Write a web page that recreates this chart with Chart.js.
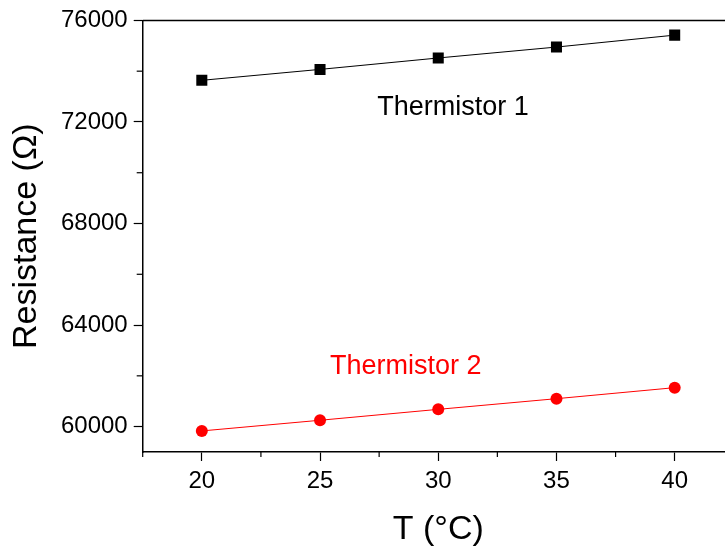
<!DOCTYPE html>
<html>
<head>
<meta charset="utf-8">
<script src="https://cdn.jsdelivr.net/npm/chart.js@4.4.1/dist/chart.umd.min.js"></script>
<style>
  html, body { margin: 0; padding: 0; background: #fff; overflow: hidden; width: 725px; height: 554px; }
  #wrap { position: relative; width: 760px; height: 554px; }
</style>
</head>
<body>
<div id="wrap"><canvas id="c" width="760" height="554"></canvas></div>
<script>
// ---- data ----
const temperatures = [20, 25, 30, 35, 40];
const thermistor1 = [73640, 74070, 74520, 74950, 75420];
const thermistor2 = [59830, 60250, 60680, 61100, 61534];
const xTicks = [20, 25, 30, 35, 40];
const xMinorTicks = [17.5, 22.5, 27.5, 32.5, 37.5, 42.5];
const yTicks = [60000, 64000, 68000, 72000, 76000];
const yMinorTicks = [62000, 66000, 70000, 74000];
const seriesNames = ['Thermistor 1', 'Thermistor 2'];

const FONT = "'Liberation Sans', Arial, Helvetica, sans-serif";

const labelPlugin = {
  id: 'extras',
  afterDraw(chart) {
    const ctx = chart.ctx;
    const xs = chart.scales.x, ys = chart.scales.y;
    const area = chart.chartArea;
    ctx.save();
    ctx.strokeStyle = '#000';
    ctx.lineWidth = 1.5;
    // top frame line
    ctx.beginPath();
    ctx.moveTo(area.left, area.top);
    ctx.lineTo(area.right, area.top);
    ctx.stroke();
    // right frame line
    ctx.beginPath();
    ctx.moveTo(area.right, area.top);
    ctx.lineTo(area.right, area.bottom);
    ctx.stroke();
    // minor ticks
    ctx.lineWidth = 1.2;
    xMinorTicks.forEach(v => {
      const px = xs.getPixelForValue(v);
      ctx.beginPath();
      ctx.moveTo(px, area.bottom);
      ctx.lineTo(px, area.bottom + 5);
      ctx.stroke();
    });
    yMinorTicks.forEach(v => {
      const py = ys.getPixelForValue(v);
      ctx.beginPath();
      ctx.moveTo(area.left, py);
      ctx.lineTo(area.left - 6, py);
      ctx.stroke();
    });
    // series labels
    ctx.font = '27px ' + FONT;
    ctx.textAlign = 'center';
    ctx.textBaseline = 'middle';
    ctx.fillStyle = '#000';
    ctx.fillText(seriesNames[0], xs.getPixelForValue(30.62), ys.getPixelForValue(72577));
    ctx.fillStyle = '#ff0000';
    ctx.fillText(seriesNames[1], xs.getPixelForValue(28.63), ys.getPixelForValue(62349));
    ctx.restore();
  }
};

new Chart(document.getElementById('c'), {
  type: 'line',
  data: {
    datasets: [
      {
        label: seriesNames[0],
        data: temperatures.map((t, i) => ({ x: t, y: thermistor1[i] })),
        borderColor: '#000',
        backgroundColor: '#000',
        borderWidth: 1,
        pointStyle: 'rect',
        pointRadius: 7.8,
        pointBorderWidth: 0,
        fill: false,
        tension: 0
      },
      {
        label: seriesNames[1],
        data: temperatures.map((t, i) => ({ x: t, y: thermistor2[i] })),
        borderColor: '#ff0000',
        backgroundColor: '#ff0000',
        borderWidth: 1,
        pointStyle: 'circle',
        pointRadius: 6,
        pointBorderWidth: 0,
        fill: false,
        tension: 0
      }
    ]
  },
  options: {
    responsive: false,
    animation: false,
    layout: { padding: { left: 0, top: 20, right: 26.2, bottom: 0 } },
    plugins: { legend: { display: false }, tooltip: { enabled: false } },
    scales: {
      x: {
        type: 'linear',
        min: 17.5,
        max: 42.5,
        afterBuildTicks(scale) { scale.ticks = xTicks.map(v => ({ value: v })); },
        afterFit(scale) { scale.height = 102; },
        border: { display: true, color: '#000', width: 1.5 },
        grid: { drawOnChartArea: false, drawTicks: true, tickLength: 9, tickColor: '#000', tickWidth: 1.2 },
        ticks: { color: '#000', font: { family: FONT, size: 24 }, padding: 6, maxRotation: 0 },
        title: { display: true, text: 'T (°C)', color: '#000', font: { family: FONT, size: 34 }, padding: { top: 0, bottom: 4 } }
      },
      y: {
        type: 'linear',
        min: 59000,
        max: 76000,
        afterBuildTicks(scale) { scale.ticks = yTicks.map(v => ({ value: v })); },
        afterFit(scale) { scale.width = 142.7; },
        border: { display: true, color: '#000', width: 1.5 },
        grid: { drawOnChartArea: false, drawTicks: true, tickLength: 9, tickColor: '#000', tickWidth: 1.2 },
        ticks: { color: '#000', font: { family: FONT, size: 24 }, padding: 6, callback: v => String(v) },
        title: { display: true, text: 'Resistance (Ω)', color: '#000', font: { family: FONT, size: 34 }, padding: { top: 6, bottom: 0 } }
      }
    }
  },
  plugins: [labelPlugin]
});
</script>
</body>
</html>
